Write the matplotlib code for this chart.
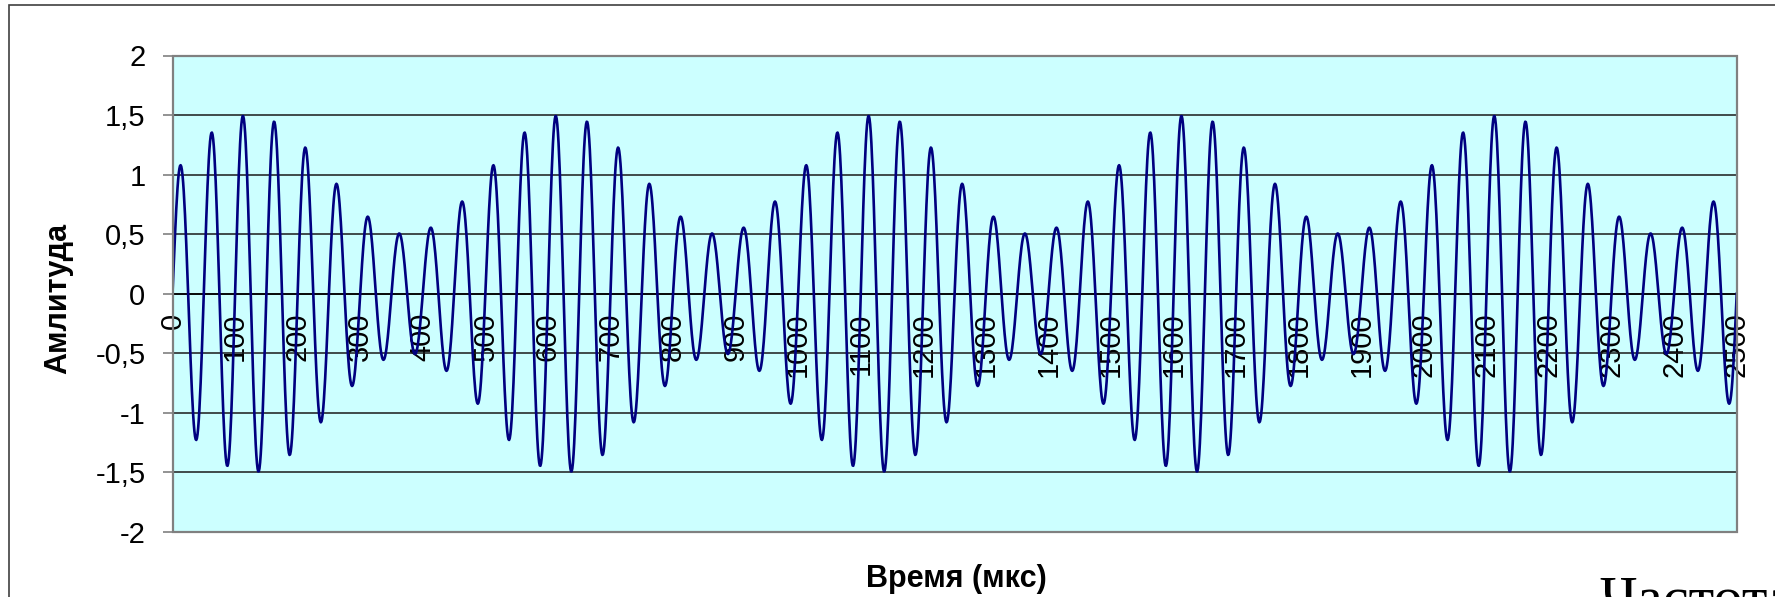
import numpy as np
import matplotlib
matplotlib.use("Agg")
import matplotlib.pyplot as plt
from matplotlib.patches import Rectangle
from matplotlib.ticker import FixedLocator, FixedFormatter

# ---- data ----
# AM signal: carrier 20 kHz, modulation 2 kHz, depth 0.5, amplitude 1
carrier_khz = 20.0
mod_khz = 2.0
mod_depth = 0.5
amplitude = 1.0
t_start_us = 0
t_end_us = 2500
t_step_us = 1

x_ticks = list(range(0, 2501, 100))
x_tick_labels = [str(v) for v in x_ticks]
y_ticks = [2, 1.5, 1, 0.5, 0, -0.5, -1, -1.5, -2]
y_tick_labels = ["2", "1,5", "1", "0,5", "0", "-0,5", "-1", "-1,5", "-2"]

x_label = "Время (мкс)"
y_label = "Амлитуда"
corner_text = "Частота"

time_us = np.arange(t_start_us, t_end_us + t_step_us, t_step_us)
t_ms = time_us / 1000.0
signal = amplitude * (1 + mod_depth * np.sin(2 * np.pi * mod_khz * t_ms)) * np.sin(2 * np.pi * carrier_khz * t_ms)

# ---- figure ----
plt.rcParams['font.family'] = ['Liberation Sans', 'DejaVu Sans']
W, H = 1775, 597
fig = plt.figure(figsize=(W / 100, H / 100), dpi=100)
fig.patch.set_facecolor('white')

left, right, top, bottom = 172.5, 1736.7, 55.5, 532.0
ax = fig.add_axes([left / W, (H - bottom) / H, (right - left) / W, (bottom - top) / H])
ax.set_facecolor('#CCFFFF')

ax.plot(time_us, signal, color='#000080', lw=1.9, zorder=3, solid_joinstyle='round')

ax.set_xlim(t_start_us, t_end_us)
ax.set_ylim(-2, 2)

# grid
ax.yaxis.set_major_locator(FixedLocator(y_ticks))
ax.yaxis.set_major_formatter(FixedFormatter(y_tick_labels))
ax.grid(axis='y', color='#1a1a1a', lw=1.1, zorder=1)
ax.set_axisbelow(True)

# x axis at y = 0
for s in ['top', 'right', 'left']:
    ax.spines[s].set_visible(False)
ax.spines['bottom'].set_position(('data', 0))
ax.spines['bottom'].set_color('#000000')
ax.spines['bottom'].set_linewidth(1.2)
ax.spines['bottom'].set_zorder(2)

ax.xaxis.set_major_locator(FixedLocator(x_ticks))
ax.xaxis.set_major_formatter(FixedFormatter(x_tick_labels))
ax.tick_params(axis='x', length=0, pad=13.5, labelsize=21, labelrotation=90)
for lab in ax.get_xticklabels():
    lab.set_va('top')
    lab.set_ha('center')

ax.tick_params(axis='y', length=7.5, width=1.2, color='#808080', pad=12, labelsize=21, direction='out')

# plot frame
ax.add_patch(Rectangle((0, 0), 1, 1, transform=ax.transAxes, fill=False,
                       edgecolor='#808080', lw=1.6, clip_on=False, zorder=4))

ax.set_ylabel(y_label, fontsize=22, fontweight='bold')
ax.yaxis.label.set_va('center')
ax.yaxis.set_label_coords(-0.0732, 0.49)

fig.text(956.5 / W, (H - 587) / H, x_label, fontsize=22, fontweight='bold',
         ha='center', va='baseline')

fig.text(1599 / W, (H - 616) / H, corner_text, fontsize=42,
         family=['Liberation Serif', 'DejaVu Serif'], ha='left', va='baseline')

# outer border (continues past right and bottom edges)
fig.add_artist(Rectangle((8.5 / W, -0.2), 2.0, (H - 4.7) / H + 0.2,
                         transform=fig.transFigure, fill=False,
                         edgecolor='#404040', lw=1.2))

fig.savefig('out.png', dpi=100)
